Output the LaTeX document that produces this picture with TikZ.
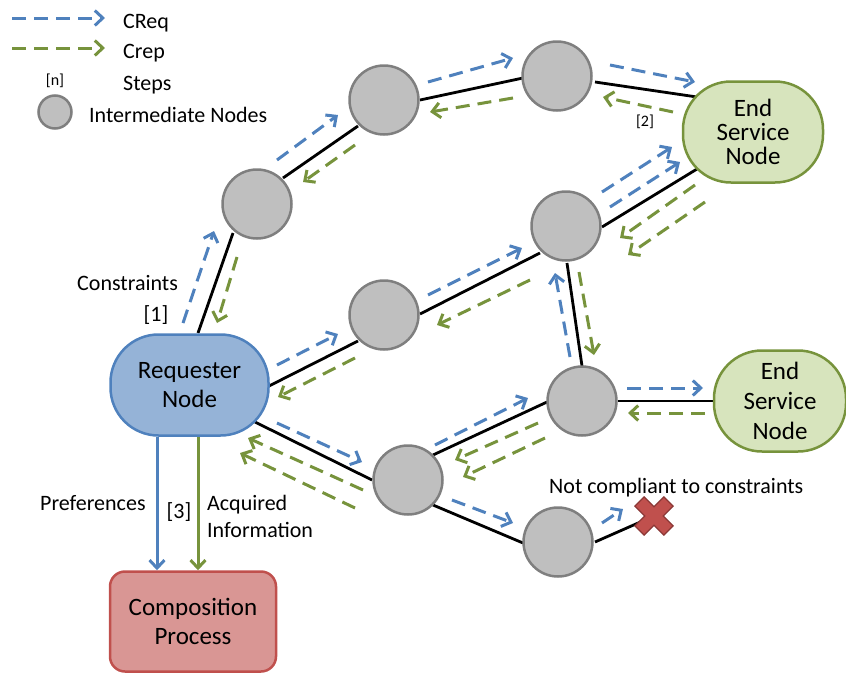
\documentclass[tikz,border=0pt]{standalone}
\usepackage{fontspec}
\setmainfont{Carlito}
\usetikzlibrary{arrows.meta,backgrounds}

\definecolor{reqblue}{HTML}{4F81BD}
\definecolor{repgreen}{HTML}{77933C}
\definecolor{reqfill}{HTML}{95B3D7}
\definecolor{endfill}{HTML}{D7E4BD}
\definecolor{hopfill}{HTML}{BFBFBF}
\definecolor{hopline}{HTML}{7F7F7F}
\definecolor{compfill}{HTML}{D99694}
\definecolor{compline}{HTML}{C0504D}
\definecolor{crossline}{HTML}{8C3836}

\tikzset{
  bigtext/.style={font=\fontsize{25}{29}\selectfont},
  label22/.style={font=\fontsize{22}{26}\selectfont, inner sep=0pt},
  label16/.style={font=\fontsize{16}{19}\selectfont, inner sep=0pt},
  hop/.style={circle, draw=hopline, fill=hopfill, line width=2.5pt,
    minimum size=69pt, inner sep=0pt},
  reqnode/.style={rectangle, rounded corners=48pt, draw=reqblue, fill=reqfill,
    line width=2.5pt, minimum width=158pt, minimum height=101pt,
    align=center, bigtext},
  endnode/.style={rectangle, rounded corners=48pt, draw=repgreen, fill=endfill,
    line width=2.5pt, minimum height=101pt, align=center, bigtext},
  compnode/.style={rectangle, rounded corners=15pt, draw=compline, fill=compfill,
    line width=2.5pt, minimum width=166pt, minimum height=100pt,
    align=center, bigtext},
  link/.style={draw=black, line width=2.8pt},
  tipshape/.style={-{Straight Barb[length=8pt,width=15pt]}},
  creq/.style={draw=reqblue, line width=3pt, dash pattern=on 14pt off 8pt, tipshape},
  crep/.style={draw=repgreen, line width=3pt, dash pattern=on 14pt off 8pt, tipshape},
  solidreq/.style={draw=reqblue, line width=3pt, tipshape},
  solidrep/.style={draw=repgreen, line width=3pt, tipshape},
}

\begin{document}
\begin{tikzpicture}[x=1pt, y=-1pt]
\useasboundingbox (0,0) rectangle (846,675);

% main nodes
\node[reqnode] (req) at (189.5,385) {Requester\\Node};
\node[endnode, minimum width=140pt, font=\fontsize{25}{24}\selectfont] (end1) at (753,132) {End\\Service\\Node};
\node[endnode, minimum width=132pt, font=\fontsize{25}{30}\selectfont] (end2) at (780,401) {End\\Service\\Node};
\node[compnode] (comp) at (193,621.5) {Composition\\Process};

% intermediate hops
\node[hop] (h1) at (257,204) {};
\node[hop] (h2) at (384,100) {};
\node[hop] (h3) at (557,76) {};
\node[hop] (h4) at (566,226) {};
\node[hop] (h5) at (384,315) {};
\node[hop] (h6) at (582,401) {};
\node[hop] (h7) at (408,480) {};
\node[hop] (h8) at (558,542) {};
\coordinate (fail) at (654,516);

% physical links, drawn behind the nodes
\begin{pgfonlayer}{background}
  \draw[link] ([shift={(8.5,-52)}]req.center) -- ([shift={(-24,29)}]h1.center);
  \draw[link] ([shift={(26,-26)}]h1.center) -- ([shift={(-26,26)}]h2.center);
  \draw[link] ([shift={(36,0)}]h2.center) -- ([shift={(-34,2)}]h3.center);
  \draw[link] ([shift={(38,6)}]h3.center) -- ([shift={(-56,-35)}]end1.center);
  \draw[link] ([shift={(79.5,1)}]req.center) -- ([shift={(-26,26)}]h5.center);
  \draw[link] ([shift={(36,-1)}]h5.center) -- ([shift={(-26,27)}]h4.center);
  \draw[link] ([shift={(36,1)}]h4.center) -- ([shift={(-56,37)}]end1.center);
  \draw[link] ([shift={(1,37)}]h4.center) -- ([shift={(0,-35)}]h6.center);
  \draw[link] ([shift={(65.5,37)}]req.center) -- ([shift={(-36,0)}]h7.center);
  \draw[link] ([shift={(25,-25)}]h7.center) -- ([shift={(-35,1)}]h6.center);
  \draw[link] ([shift={(36,0)}]h6.center) -- ([shift={(-67,0)}]end2.center);
  \draw[link] ([shift={(25,25)}]h7.center) -- ([shift={(-35,1)}]h8.center);
  \draw[link] ([shift={(37,0)}]h8.center) -- (fail);
\end{pgfonlayer}

% rejection mark
\begin{scope}[shift={(fail)}, rotate=45]
  \fill[compline, draw=crossline, line width=1.2pt]
    (6.5,20.5) -- (6.5,6.5) -- (20.5,6.5) -- (20.5,-6.5) -- (6.5,-6.5) --
    (6.5,-20.5) -- (-6.5,-20.5) -- (-6.5,-6.5) -- (-20.5,-6.5) --
    (-20.5,6.5) -- (-6.5,6.5) -- (-6.5,20.5) -- cycle;
\end{scope}

% constraint requests
\foreach \n/\a/\b in {
  b1/{183,323}/{214,231}, b2/{277,160}/{338,115}, b3/{428,82}/{513,58},
  b4/{610,65}/{695,82}, b5/{277,365}/{338,334}, b6/{428,295}/{522,248},
  b7/{602,192}/{672,147}, b8/{610,207}/{680,162}, b9/{570,357}/{555,273},
  b10/{277,423}/{362,462}, b11/{435,445}/{528,398}, b12/{627,388}/{703,388},
  b13/{452,500}/{513,523}, b14/{602,523}/{623,509}}
{
  \coordinate (\n s) at (\a);
  \coordinate (\n e) at (\b);
  \draw[creq] (\n s) -- (\n e);
}

% constraint replies
\foreach \n/\a/\b in {
  g1/{237,257}/{217,323}, g2/{355,145}/{303,182}, g3/{513,98}/{430,112},
  g4/{673,112}/{603,97}, g5/{695,185}/{620,238}, g6/{705,202}/{628,255},
  g7/{579,272}/{594,355}, g8/{530,280}/{437,325}, g9/{355,358}/{278,397},
  g10/{538,423}/{455,460}, g11/{545,438}/{463,477}, g12/{363,490}/{248,438},
  g13/{355,508}/{240,453}, g14/{705,413}/{628,413}}
{
  \coordinate (\n s) at (\a);
  \coordinate (\n e) at (\b);
  \draw[crep] (\n s) -- (\n e);
}

% requester to composition
\coordinate (prefx) at (157,0);
\coordinate (infox) at (198,0);
\draw[solidreq] (prefx |- req.south) -- (prefx |- comp.north);
\draw[solidrep] (infox |- req.south) -- (infox |- comp.north);

% labels
\node[label22, anchor=base west] (lconstr) at (77,290) {Constraints};
\node[label22] (lstep1) at (156,315) {[1]};
\node[label16] (lstep2) at (645,122) {[2]};
\node[label22] (lstep3) at (179,512) {[3]};
\node[label22, anchor=base west] (lpref) at (40,510) {Preferences};
\node[label22, anchor=base west] (lacq) at (207,510) {Acquired};
\node[label22, anchor=base west] (linfo) at (207,537) {Information};
\node[label22, anchor=base west] (lnot) at (549,493) {Not compliant to constraints};

% legend
\coordinate (lg1s) at (12,18);
\coordinate (lg1e) at (105,18);
\coordinate (lg2s) at (12,48);
\coordinate (lg2e) at (105,48);
\draw[creq] (lg1s) -- (lg1e);
\draw[crep] (lg2s) -- (lg2e);
\node[label22, anchor=base west] (lgreq) at (123,28) {CReq};
\node[label22, anchor=base west] (lgrep) at (123,58) {Crep};
\node[label16] (lgn) at (55,81) {[n]};
\node[label22, anchor=base west] (lgsteps) at (123,90) {Steps};
\node[hop, minimum size=33pt] (lghop) at (55,112) {};
\node[label22, anchor=base west] (lghops) at (89,122) {Intermediate Nodes};
\end{tikzpicture}
\end{document}
